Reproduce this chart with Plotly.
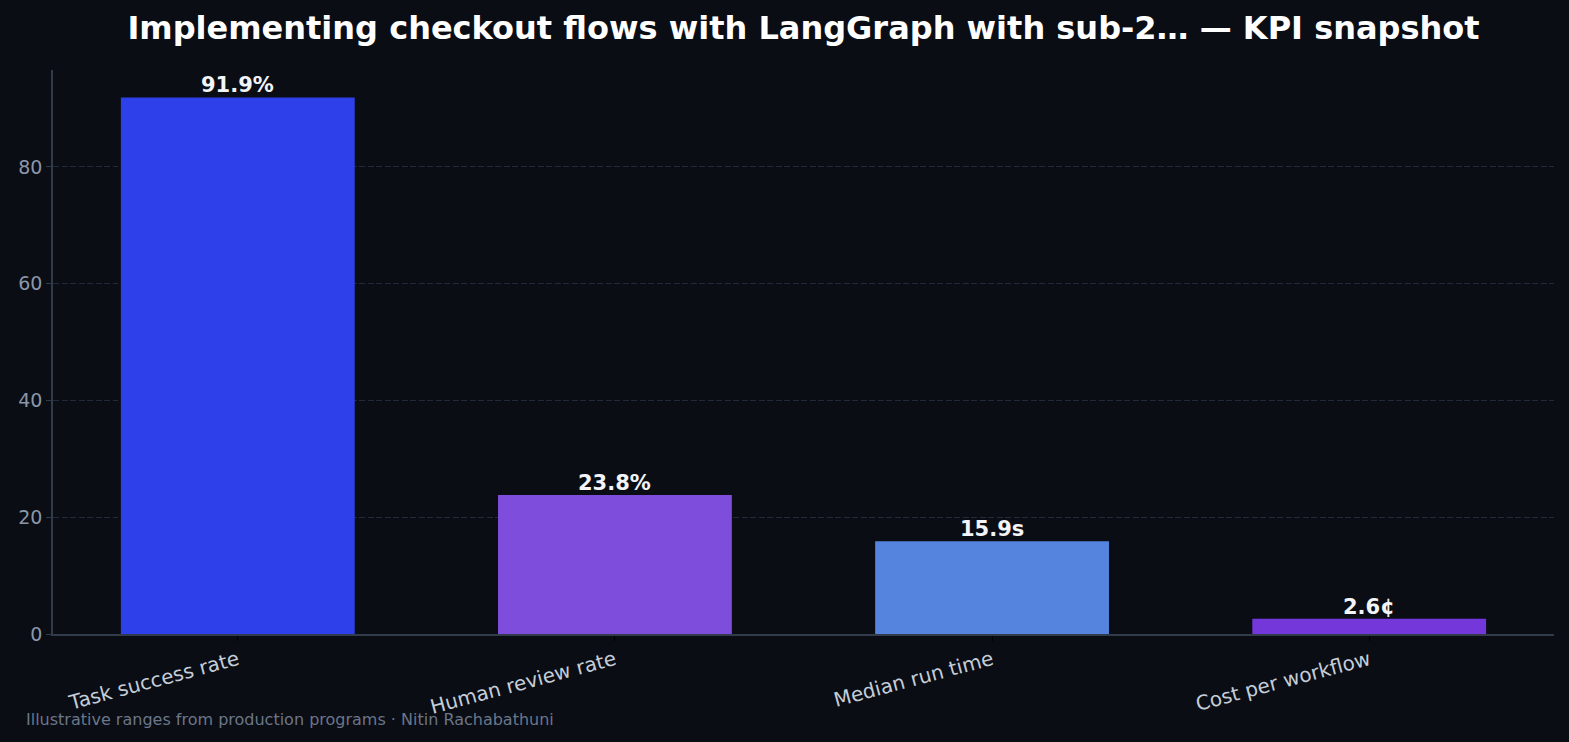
import plotly.graph_objects as go

categories = ["Task success rate", "Human review rate", "Median run time", "Cost per workflow"]
values = [91.9, 23.8, 15.9, 2.6]
labels = ["91.9%", "23.8%", "15.9s", "2.6¢"]
colors = ["#2E40EA", "#7E4DDB", "#5584DE", "#7437D9"]
y_ticks = [0, 20, 40, 60, 80]

BG = "#0A0D14"
SPINE = "#323B4A"
GRID = "#222938"

fig = go.Figure()
fig.add_trace(go.Bar(
    x=categories, y=values,
    marker=dict(color=colors, line=dict(width=0)),
    width=0.62, cliponaxis=False, hoverinfo="x+y",
))
for cat, val, lab in zip(categories, values, labels):
    fig.add_annotation(
        x=cat, y=val, text=f"<b>{lab}</b>", showarrow=False,
        xanchor="center", yanchor="bottom", yshift=-2,
        font=dict(family="DejaVu Sans", size=21, color="#F2F4F8"),
    )
fig.update_layout(
    width=1569, height=742,
    paper_bgcolor=BG, plot_bgcolor=BG,
    margin=dict(l=53, r=15, t=70, b=108),
    showlegend=False,
    title=dict(text="<b>Implementing checkout flows with LangGraph with sub-2… — KPI snapshot</b>",
               x=0.5, xref="paper", xanchor="center", y=0.962, yanchor="middle",
               font=dict(family="DejaVu Sans", size=32, color="#FFFFFF")),
    font=dict(family="DejaVu Sans"),
)
fig.update_xaxes(
    range=[-0.49, 3.49], showline=True, linecolor=SPINE, linewidth=1.5,
    ticks="outside", ticklen=5, tickcolor="#000000", tickwidth=1,
    tickangle=-15, tickfont=dict(size=20, color="#C5CDD9"),
    showgrid=False, zeroline=False,
)
fig.update_yaxes(
    range=[0, 96.6], tickvals=y_ticks, showline=True, linecolor=SPINE, linewidth=1.5,
    ticks="outside", ticklen=5, tickcolor=SPINE, tickwidth=1,
    tickfont=dict(size=19, color="#8A97AA"),
    showgrid=True, gridcolor=GRID, griddash="6px,2.5px", gridwidth=1.2,
    zeroline=False,
)
fig.add_annotation(
    text="Illustrative ranges from production programs · Nitin Rachabathuni",
    xref="paper", yref="paper", x=-0.0195, y=-0.152, xanchor="left", yanchor="middle",
    showarrow=False, font=dict(family="DejaVu Sans", size=16, color="#6B7689"),
)
fig.write_html("out.html")
